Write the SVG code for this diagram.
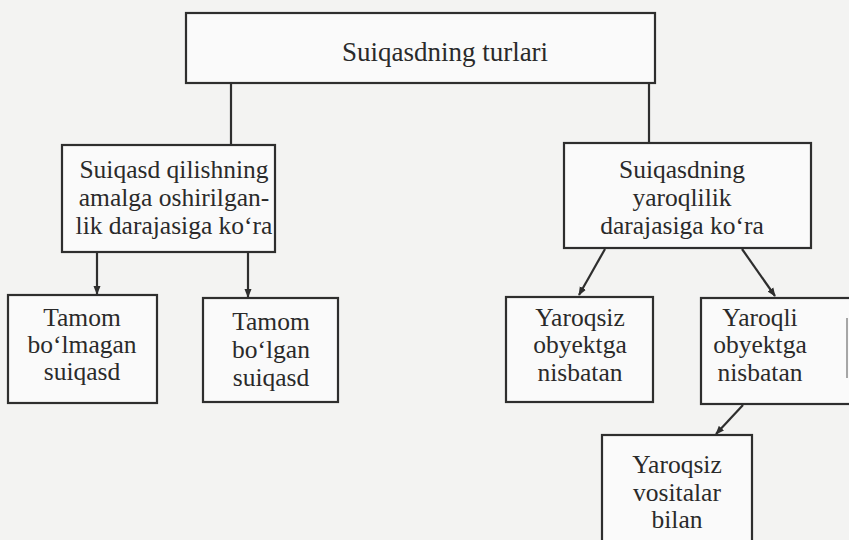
<svg xmlns="http://www.w3.org/2000/svg" width="849" height="540" viewBox="0 0 849 540">
  <style>
    .box { fill: #fafafa; stroke: #2e2e2e; stroke-width: 2.2; }
    .lbl { font-family: "Liberation Serif", "Times New Roman", serif; font-size: 25.5px; fill: #2a2a2a; text-anchor: middle; }
    .wire { fill: none; stroke: #2e2e2e; stroke-width: 2.2; }
  </style>
  <defs>
    <marker id="tip" viewBox="0 0 10 10" refX="9" refY="5" markerWidth="4" markerHeight="4" orient="auto" markerUnits="strokeWidth">
      <path d="M0,1 L10,5 L0,9 Z" fill="#2e2e2e"/>
    </marker>
  </defs>

  <!-- paper -->
  <rect x="0" y="0" width="849" height="540" fill="#f3f3f2"/>

  <!-- connectors -->
  <g id="connectors">
    <path class="wire" d="M231,83 V145"/>
    <path class="wire" d="M649,83 V143"/>
    <path class="wire" d="M97,252 V294" marker-end="url(#tip)"/>
    <path class="wire" d="M248,252 V297" marker-end="url(#tip)"/>
    <path class="wire" d="M605,249 L579,295" marker-end="url(#tip)"/>
    <path class="wire" d="M742,249 L775,296" marker-end="url(#tip)"/>
    <path class="wire" d="M743,405 L716,434" marker-end="url(#tip)"/>
  </g>

  <!-- root -->
  <g id="root">
    <rect class="box" x="186" y="13" width="469" height="70"/>
    <text class="lbl" x="445" y="61" style="font-size:27px">Suiqasdning turlari</text>
  </g>

  <!-- left branch -->
  <g id="by-stage">
    <rect class="box" x="62" y="145" width="213" height="107"/>
    <text class="lbl" x="174" y="178">Suiqasd qilishning</text>
    <text class="lbl" x="174" y="206">amalga oshirilgan-</text>
    <text class="lbl" x="174" y="234">lik darajasiga ko‘ra</text>
  </g>

  <g id="unfinished">
    <rect class="box" x="8" y="295" width="149" height="108"/>
    <text class="lbl" x="82" y="326">Tamom</text>
    <text class="lbl" x="82" y="353">bo‘lmagan</text>
    <text class="lbl" x="82" y="380">suiqasd</text>
  </g>

  <g id="finished">
    <rect class="box" x="203" y="298" width="135" height="104"/>
    <text class="lbl" x="271" y="330">Tamom</text>
    <text class="lbl" x="271" y="358">bo‘lgan</text>
    <text class="lbl" x="271" y="386">suiqasd</text>
  </g>

  <!-- right branch -->
  <g id="by-fitness">
    <rect class="box" x="564" y="143" width="247" height="105"/>
    <text class="lbl" x="682" y="178">Suiqasdning</text>
    <text class="lbl" x="682" y="206">yaroqlilik</text>
    <text class="lbl" x="682" y="234">darajasiga ko‘ra</text>
  </g>

  <g id="unfit-object">
    <rect class="box" x="506" y="297" width="147" height="105"/>
    <text class="lbl" x="580" y="326">Yaroqsiz</text>
    <text class="lbl" x="580" y="353">obyektga</text>
    <text class="lbl" x="580" y="381">nisbatan</text>
  </g>

  <g id="fit-object">
    <rect class="box" x="701" y="298" width="160" height="106"/>
    <text class="lbl" x="760" y="326">Yaroqli</text>
    <text class="lbl" x="760" y="353">obyektga</text>
    <text class="lbl" x="760" y="381">nisbatan</text>
    <path d="M847,318 V378" stroke="#8a8a8a" stroke-width="1.5"/>
  </g>

  <g id="unfit-means">
    <rect class="box" x="602" y="435" width="150" height="120"/>
    <text class="lbl" x="677" y="473">Yaroqsiz</text>
    <text class="lbl" x="677" y="501">vositalar</text>
    <text class="lbl" x="677" y="528">bilan</text>
  </g>
</svg>
